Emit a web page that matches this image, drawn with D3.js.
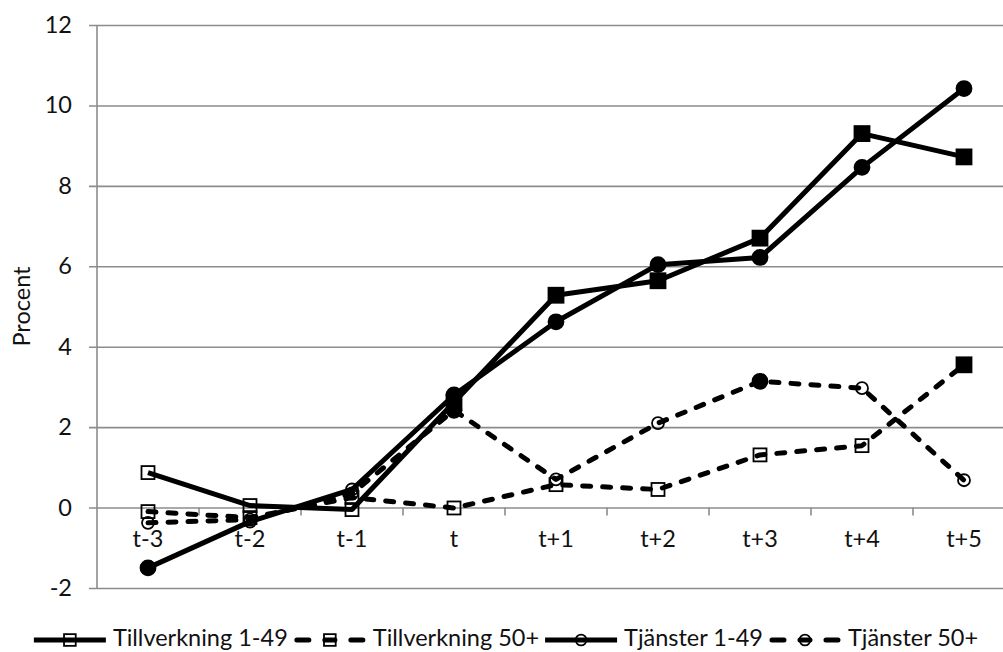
<!DOCTYPE html>
<html>
<head>
<meta charset="utf-8">
<script src="https://cdn.jsdelivr.net/npm/d3@7"></script>
<style>
  html, body { margin: 0; padding: 0; background: #fff; }
  svg { display: block; }
  text { font-family: Lato, "Open Sans", sans-serif; fill: #111; }
</style>
</head>
<body>
<svg id="chart" width="1003" height="652"></svg>
<script>
// Periods relative to the event year
const periods = ["t-3", "t-2", "t-1", "t", "t+1", "t+2", "t+3", "t+4", "t+5"];

// Effect estimates, percent
const tillverkningSmall = [0.87, 0.05, -0.05, 2.62, 5.28, 5.64, 6.7, 9.3, 8.72];
const tillverkningLarge = [-0.1, -0.25, 0.25, -0.01, 0.57, 0.45, 1.31, 1.54, 3.55];
const tjansterSmall     = [-1.5, -0.35, 0.45, 2.8, 4.62, 6.04, 6.22, 8.46, 10.42];
const tjansterLarge     = [-0.38, -0.3, 0.35, 2.42, 0.7, 2.1, 3.14, 2.97, 0.68];

// Filled marker = statistically significant estimate
const tillverkningSmallSig = [0, 0, 0, 1, 1, 1, 1, 1, 1];
const tillverkningLargeSig = [0, 0, 0, 0, 0, 0, 0, 0, 1];
const tjansterSmallSig     = [1, 0, 0, 1, 1, 1, 1, 1, 1];
const tjansterLargeSig     = [0, 0, 0, 1, 0, 0, 1, 0, 0];

const yTicks = [-2, 0, 2, 4, 6, 8, 10, 12];
const seriesNames = ["Tillverkning 1-49", "Tillverkning 50+", "Tjänster 1-49", "Tjänster 50+"];

const series = [
  { name: seriesNames[0], values: tillverkningSmall, sig: tillverkningSmallSig, shape: "square", dashed: false },
  { name: seriesNames[1], values: tillverkningLarge, sig: tillverkningLargeSig, shape: "square", dashed: true },
  { name: seriesNames[2], values: tjansterSmall,     sig: tjansterSmallSig,     shape: "circle", dashed: false },
  { name: seriesNames[3], values: tjansterLarge,     sig: tjansterLargeSig,     shape: "circle", dashed: true }
];

const svg = d3.select("#chart");
const plot = { left: 97, top: 25, bottom: 588, right: 1015 };
const gridColor = "#8c8c8c";
const fontSize = "23.5px";
const dash = "8,12";

const x = d3.scaleBand().domain(periods).range([plot.left, plot.right]).padding(0);
const cx = d => x(d) + x.bandwidth() / 2;
const y = d3.scaleLinear().domain([-2, 12]).range([plot.bottom, plot.top]);

// Horizontal gridlines with outward tick marks and labels
const yAxis = d3.axisLeft(y)
  .tickValues(yTicks)
  .tickSize(0)
  .tickPadding(25)
  .tickFormat(d => String(d));
const gy = svg.append("g").attr("transform", `translate(${plot.left},0)`).call(yAxis);
gy.select(".domain").remove();
gy.selectAll(".tick text").style("font-size", fontSize).attr("fill", "#111");
gy.selectAll(".tick").append("line")
  .attr("x1", -8).attr("x2", plot.right - plot.left)
  .attr("stroke", gridColor).attr("stroke-width", 1.6);

// Vertical axis line
svg.append("line")
  .attr("x1", plot.left).attr("x2", plot.left)
  .attr("y1", y(12)).attr("y2", y(-2))
  .attr("stroke", gridColor).attr("stroke-width", 1.6);

// Category axis sits on the zero line, ticks between categories
const xAxis = d3.axisBottom(x).tickSize(0).tickPadding(23);
const gx = svg.append("g").attr("transform", `translate(0,${y(0)})`).call(xAxis);
gx.select(".domain").remove();
gx.selectAll(".tick text").style("font-size", fontSize).attr("fill", "#111");
svg.append("g").selectAll("line")
  .data(periods.slice(1))
  .join("line")
  .attr("x1", d => x(d)).attr("x2", d => x(d))
  .attr("y1", y(0)).attr("y2", y(0) + 8)
  .attr("stroke", gridColor).attr("stroke-width", 1.6);

// Y axis title
svg.append("text")
  .attr("transform", `translate(30,${(y(12) + y(-2)) / 2}) rotate(-90)`)
  .attr("text-anchor", "middle")
  .style("font-size", fontSize)
  .text("Procent");

const line = d3.line().x((d, i) => cx(periods[i])).y(d => y(d));

function drawMarker(g, shape, filled, px, py, scale) {
  const s = scale || 1;
  if (shape === "square") {
    const h = (filled ? 7.5 : 6.5) * s;
    g.append("rect")
      .attr("x", px - h).attr("y", py - h)
      .attr("width", 2 * h).attr("height", 2 * h)
      .attr("fill", filled ? "#000" : "none")
      .attr("stroke", "#000").attr("stroke-width", 1.8);
  } else {
    const r = (filled ? 7.5 : 6) * s;
    g.append("circle")
      .attr("cx", px).attr("cy", py).attr("r", r)
      .attr("fill", filled ? "#000" : "none")
      .attr("stroke", "#000").attr("stroke-width", 1.8);
  }
}

// Series: line then its markers
series.forEach(s => {
  const g = svg.append("g");
  g.append("path")
    .attr("d", line(s.values))
    .attr("fill", "none")
    .attr("stroke", "#000")
    .attr("stroke-width", 5)
    .attr("stroke-linejoin", "round")
    .attr("stroke-linecap", s.dashed ? "round" : "butt")
    .attr("stroke-dasharray", s.dashed ? dash : null);
  s.values.forEach((v, i) => drawMarker(g, s.shape, s.sig[i] === 1, cx(periods[i]), y(v)));
});

// Legend along the bottom
const legend = svg.append("g");
const sampleW = 72, gapText = 7, gapItem = 6, legendY = 640;
const items = series.map(s => {
  const g = legend.append("g");
  const t = g.append("text")
    .attr("x", sampleW + gapText).attr("y", legendY)
    .attr("dominant-baseline", "middle")
    .style("font-size", fontSize)
    .text(s.name);
  return { s, g, w: sampleW + gapText + t.node().getComputedTextLength() };
});
const total = d3.sum(items, d => d.w) + gapItem * (items.length - 1);
let offset = 506 - total / 2;
items.forEach(it => {
  it.g.attr("transform", `translate(${offset},0)`);
  const mid = sampleW / 2;
  const seg = it.s.dashed ? [[3, 15], [31, 41], [57, 69]] : [[0, sampleW]];
  seg.forEach(([a, b]) => {
    it.g.append("line").attr("x1", a).attr("x2", b).attr("y1", legendY).attr("y2", legendY)
      .attr("stroke", "#000").attr("stroke-width", 5)
      .attr("stroke-linecap", it.s.dashed ? "round" : "butt");
  });
  drawMarker(it.g, it.s.shape, false, mid, legendY, 0.9);
  offset += it.w + gapItem;
});
</script>
</body>
</html>
